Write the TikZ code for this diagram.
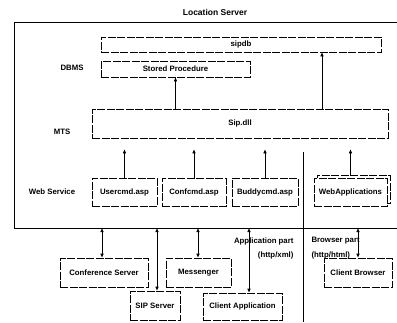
\documentclass[tikz,border=0pt]{standalone}
\usepackage{fontspec}
\setmainfont{Liberation Sans}
\usetikzlibrary{arrows.meta,positioning}

\begin{document}
\begin{tikzpicture}[x=1pt,y=-1pt,>={Latex[length=4pt,width=3.5pt]},
	font=\fontsize{7.8}{9}\selectfont\bfseries]

	\tikzset{%
		block/.style = {draw, dash pattern=on 8pt off 1.5pt, line width=0.6pt,
			rectangle, inner sep=1pt, minimum height=28pt, fill=white},
		link/.style  = {line width=0.6pt},
		frame/.style = {line width=0.9pt}
	}
	\useasboundingbox (0,0) rectangle (397,322);

	% Location Server
	\node (title) at (215,12) {\fontsize{8.5}{10}\selectfont Location Server};
	\coordinate (frameNE) at (400,22);
	\coordinate (frameSW) at (14,228);
	\coordinate (frameSE) at (400,228);
	\draw[frame] (frameNE) -| (frameSW) -- (frameSE);

	% DBMS
	\node[block, minimum width=280pt, minimum height=15pt] (sipdb) at (241,44.5) {sipdb};
	\node[block, minimum width=149pt, minimum height=16pt] (stored) at (175.5,69) {Stored Procedure};
	\node (dbms) at (72,68) {DBMS};

	% MTS
	\node[block, minimum width=296pt, minimum height=29pt] (sipdll) at (240,123.5) {Sip.dll};
	\node (mts) at (62,132) {MTS};

	% Web Service
	\node[block, minimum width=65pt] (usercmd) at (124.5,192) {Usercmd.asp};
	\node[block, minimum width=64pt] (confcmd) at (194,192) {Confcmd.asp};
	\node[block, minimum width=66pt] (buddycmd) at (265,192) {Buddycmd.asp};
	\node[block, minimum width=73pt] (webback) at (353.5,189) {};
	\node[block, minimum width=73pt] (webapp) at (350.5,192) {WebApplications};
	\node (websvc) at (52,192) {Web Service};

	% Clients
	\node[block, minimum width=88pt, minimum height=29pt] (confsrv) at (104,272.5) {Conference Server};
	\node[block, minimum width=65pt, minimum height=29pt] (messenger) at (198.5,272.5) {Messenger};
	\node[block, minimum width=50pt, minimum height=29pt] (sipsrv) at (155,305.5) {SIP Server};
	\node[block, minimum width=79pt, minimum height=27pt] (clientapp) at (242.5,306.5) {Client Application};
	\node[block, minimum width=68pt, minimum height=29pt] (browser) at (358,272.5) {Client Browser};

	% Trennlinie
	\coordinate (sepTop) at (303,152);
	\coordinate (sepBot) at (303,322);
	\draw[frame] (sepTop) -- (sepBot);
	\node[anchor=east] (apppart) at (297,241) {Application part};
	\node[anchor=east] (appproto) at (297,255) {(http/xml)};
	\node[anchor=west] (brpart) at (308,241) {Browser part};
	\node[anchor=west] (brproto) at (308,255) {(http/html)};

	% Pfeile
	\draw[link,->] (sipdll.north -| stored) -- (stored.south);
	\coordinate (dbIn) at (322,109);
	\draw[link,->] (dbIn) -- (dbIn |- sipdb.south);
	\draw[link,->,shorten >=11pt] (usercmd.north) -- (usercmd.north |- sipdll.south);
	\draw[link,->,shorten >=11pt] (confcmd.north) -- (confcmd.north |- sipdll.south);
	\draw[link,->,shorten >=11pt] (buddycmd.north) -- (buddycmd.north |- sipdll.south);
	\coordinate (webIn) at (webback.north -| webapp);
	\draw[link,->,shorten >=11pt] (webIn) -- (webIn |- sipdll.south);

	\coordinate (outConf) at (102,228);
	\coordinate (outSip) at (157,228);
	\coordinate (outMsg) at (198,228);
	\coordinate (outApp) at (249,228);
	\coordinate (outBr) at (358,228);
	\draw[link,<->] (outConf) -- (outConf |- confsrv.north);
	\draw[link,<->] (outSip) -- (outSip |- sipsrv.north);
	\draw[link,<->] (outMsg) -- (outMsg |- messenger.north);
	\draw[link,<->] (outApp) -- (outApp |- clientapp.north);
	\draw[link,<->] (outBr) -- (outBr |- browser.north);
\end{tikzpicture}
\end{document}
